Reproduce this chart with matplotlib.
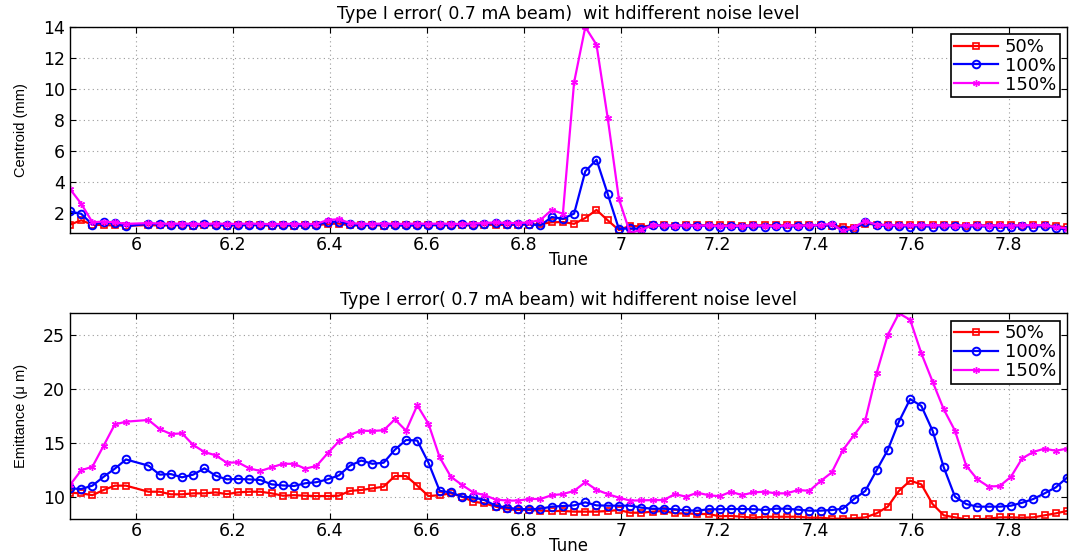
import numpy as np
import matplotlib
matplotlib.use("Agg")
import matplotlib.pyplot as plt
from matplotlib.ticker import FuncFormatter

# tune scan (uniform grid, the point next to 6.0 is missing in the data)
tune = np.delete(np.linspace(5.864, 7.92, 90), 6)

labels = ["50%", "100%", "150%"]

# centroid (mm)
cent_50 = [1.25, 1.53, 1.25, 1.22, 1.2, 1.18,
           1.22, 1.2, 1.2, 1.22, 1.19, 1.2, 1.21, 1.18, 1.2, 1.22, 1.2, 1.19, 1.2, 1.18, 1.2, 1.21, 1.3, 1.32, 1.2,
           1.2, 1.22, 1.19, 1.2, 1.21, 1.2, 1.22, 1.2, 1.21, 1.22, 1.2, 1.23, 1.25, 1.22, 1.25, 1.24, 1.29, 1.4, 1.42,
           1.3, 1.68, 2.2, 1.53, 0.9, 1.18, 1.12, 1.2,
           1.2, 1.18, 1.2, 1.22, 1.2, 1.22, 1.2, 1.19, 1.2, 1.22, 1.2, 1.21, 1.2, 1.22, 1.2, 1.18, 1.12, 1.05, 1.32,
           1.25, 1.22, 1.2, 1.22, 1.2, 1.21, 1.2, 1.2, 1.19, 1.2, 1.22, 1.2, 1.2, 1.19, 1.2, 1.2, 1.15, 1.08]
cent_100 = [2.1, 1.95, 1.25, 1.4, 1.35, 1.15,
            1.3, 1.28, 1.25, 1.22, 1.25, 1.28, 1.25, 1.22, 1.25, 1.23, 1.25, 1.22, 1.24, 1.22, 1.2, 1.25, 1.42, 1.45, 1.28,
            1.2, 1.25, 1.25, 1.22, 1.2, 1.22, 1.25, 1.22, 1.25, 1.28, 1.25, 1.3, 1.35, 1.28, 1.3, 1.28, 1.2, 1.74, 1.63,
            1.96, 4.69, 5.44, 3.23, 0.97, 1.01, 0.97, 1.25,
            1.18, 1.15, 1.18, 1.15, 1.18, 1.12, 1.15, 1.1, 1.15, 1.12, 1.15, 1.12, 1.15, 1.18, 1.2, 1.22, 0.92, 0.95, 1.45,
            1.2, 1.18, 1.15, 1.12, 1.15, 1.12, 1.15, 1.15, 1.12, 1.15, 1.12, 1.1, 1.12, 1.15, 1.12, 1.15, 1.05, 0.92]
cent_150 = [3.55, 2.6, 1.4, 1.45, 1.4, 1.3,
            1.35, 1.32, 1.3, 1.32, 1.3, 1.3, 1.32, 1.3, 1.3, 1.32, 1.3, 1.28, 1.3, 1.3, 1.28, 1.3, 1.55, 1.6, 1.35,
            1.3, 1.3, 1.32, 1.3, 1.3, 1.32, 1.3, 1.32, 1.3, 1.3, 1.32, 1.35, 1.4, 1.35, 1.35, 1.4, 1.55, 2.2, 1.95,
            10.43, 14.0, 12.86, 8.13, 2.9, 0.71, 0.92, 1.2,
            1.2, 1.18, 1.2, 1.18, 1.2, 1.15, 1.18, 1.15, 1.2, 1.18, 1.15, 1.2, 1.18, 1.2, 1.22, 1.3, 0.82, 1.1, 1.48,
            1.25, 1.22, 1.2, 1.2, 1.22, 1.2, 1.2, 1.18, 1.2, 1.2, 1.18, 1.2, 1.18, 1.2, 1.22, 1.2, 1.1, 1.0]

# emittance (um)
emit_50 = [10.43, 10.37, 10.2, 10.68, 11.08, 11.08,
           10.52, 10.52, 10.28, 10.28, 10.37, 10.37, 10.46, 10.3, 10.46, 10.52, 10.52, 10.37, 10.15, 10.2, 10.15,
           10.12, 10.12, 10.15, 10.6,
           10.68, 10.83, 10.99, 11.97, 11.97, 11.08, 10.12, 10.2, 10.37, 10.06, 9.6, 9.45, 9.14, 8.9, 8.83, 8.83,
           8.77, 8.74, 8.74, 8.68, 8.68, 8.68, 8.74, 8.83, 8.58, 8.58, 8.68, 8.74, 8.52, 8.52, 8.46, 8.46, 8.25,
           8.28, 8.21, 8.12, 8.21, 8.21, 8.21, 8.21, 8.12, 8.12, 8.03, 8.03, 8.06, 8.15, 8.52, 9.14, 10.6, 11.54,
           11.2, 9.38, 8.34, 8.15, 7.97, 7.97, 8.03, 8.15, 8.15, 8.12, 8.15, 8.34, 8.52, 8.74]
emit_100 = [10.83, 10.77, 11.08, 11.9, 12.65, 13.5,
            12.93, 12.1, 12.15, 11.85, 12.1, 12.68, 12.0, 11.66, 11.7, 11.66, 11.6, 11.2, 11.1, 11.05, 11.3, 11.4,
            11.66, 12.03, 12.93,
            13.4, 13.1, 13.2, 14.4, 15.3, 15.25, 13.2, 10.6, 10.46, 10.06, 10.0, 9.75, 9.23, 9.05, 8.92, 8.9, 8.95,
            9.14, 9.2, 9.26, 9.54, 9.26, 9.23, 9.23, 9.23, 9.05, 8.95, 8.95, 8.9, 8.8, 8.77, 8.9, 8.9,
            8.92, 8.92, 8.9, 8.83, 8.95, 8.95, 8.86, 8.77, 8.77, 8.83, 8.95, 9.85, 10.6, 12.5, 14.37, 17.0, 19.08,
            18.44, 16.16, 12.77, 10.06, 9.38, 9.14, 9.14, 9.14, 9.23, 9.5, 9.85, 10.37, 10.92, 11.82]
emit_150 = [11.14, 12.5, 12.83, 14.77, 16.74, 16.99,
            17.15, 16.31, 15.85, 15.91, 14.84, 14.19, 13.88, 13.2, 13.23, 12.68, 12.43, 12.77, 13.1, 13.1, 12.65,
            12.9, 14.07, 15.17, 15.79,
            16.16, 16.13, 16.2, 17.2, 16.16, 18.5, 16.8, 13.7, 11.9, 11.14, 10.46, 10.2, 9.8, 9.7, 9.7, 9.85, 9.85,
            10.2, 10.3, 10.6, 11.4, 10.7, 10.3, 9.97, 9.7, 9.72, 9.75, 9.75, 10.3, 10.06, 10.43, 10.2, 10.1,
            10.52, 10.2, 10.46, 10.52, 10.37, 10.37, 10.68, 10.6, 11.5, 12.3, 14.37, 15.76, 17.15, 21.46, 25.0, 27.0,
            26.4, 23.3, 20.7, 18.13, 16.16, 12.93, 11.66, 10.99, 11.05, 11.9, 13.6, 14.2, 14.5, 14.3, 14.5]

title = "Type I error( 0.7 mA beam)  wit hdifferent noise level"
title2 = "Type I error( 0.7 mA beam) wit hdifferent noise level"

styles = [dict(color="#ff0000", marker="s", markersize=4.5, markerfacecolor="none", markeredgewidth=1.2),
          dict(color="#0000ff", marker="o", markersize=5.5, markerfacecolor="none", markeredgewidth=1.4),
          dict(color="#ff00ff", marker=(6, 2, 0), markersize=5, markeredgewidth=1.0)]

plt.rcParams["font.family"] = "DejaVu Sans"

fig = plt.figure(figsize=(10.77, 5.54), dpi=100)
ax1 = fig.add_axes([0.065, 0.5794, 0.9257, 0.3718])
ax2 = fig.add_axes([0.065, 0.0626, 0.9257, 0.3718])


def style_axes(ax, ylim, yticks, ylabel, ttl):
    ax.set_xlim(5.864, 7.92)
    ax.set_ylim(*ylim)
    ax.set_xticks(np.arange(6, 7.81, 0.2))
    ax.xaxis.set_major_formatter(FuncFormatter(lambda v, p: "%g" % round(v, 1)))
    ax.set_yticks(yticks)
    ax.grid(True, linestyle=(0, (1, 3)), color="#9a9a9a", linewidth=0.8)
    ax.tick_params(direction="in", length=4, top=True, right=True, labelsize=12.5, width=0.8)
    ax.tick_params(axis="x", pad=2)
    for s in ax.spines.values():
        s.set_linewidth(1.0)
    ax.set_xlabel("Tune", fontsize=12, labelpad=-2)
    ax.set_ylabel(ylabel, fontsize=10.5, family="Liberation Sans", labelpad=11)
    ax.set_title(ttl, fontsize=12.5, pad=6)
    ax.legend(loc="upper right", fontsize=13, handlelength=2.4, borderaxespad=0.4, fancybox=False,
              edgecolor="black", framealpha=1, borderpad=0.2, labelspacing=0.05, handletextpad=0.4)
    ax.get_legend().get_frame().set_linewidth(1.2)


for vals, lab, st in zip([cent_50, cent_100, cent_150], labels, styles):
    ax1.plot(tune, vals, label=lab, linewidth=1.6, **st)
style_axes(ax1, (0.71, 14.0), range(2, 15, 2), "Centroid (mm)", title)

for vals, lab, st in zip([emit_50, emit_100, emit_150], labels, styles):
    ax2.plot(tune, vals, label=lab, linewidth=1.6, **st)
style_axes(ax2, (7.97, 27.0), [10, 15, 20, 25], "Emittance (\u03bc m)", title2)

fig.savefig("out.png", dpi=100)
